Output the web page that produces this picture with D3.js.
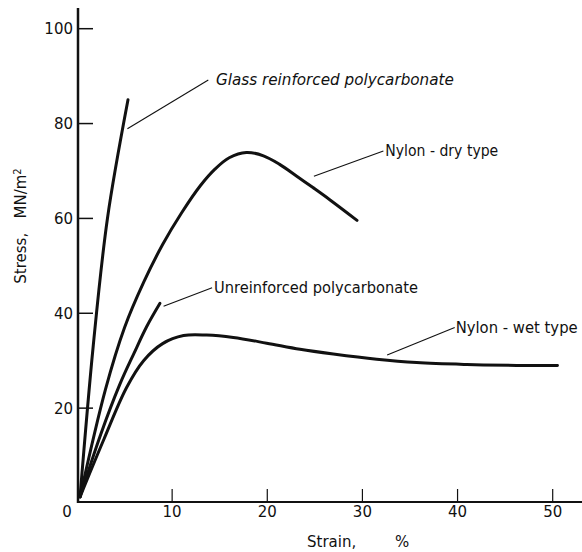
<!DOCTYPE html>
<html><head><meta charset="utf-8">
<script src="https://cdn.jsdelivr.net/npm/d3@7"></script>
<style>body{margin:0;background:#fff}svg{display:block}text{font-family:"DejaVu Sans",sans-serif;fill:#111}</style>
</head><body>
<svg id="c" width="582" height="552"></svg>
<script>
const xTicks = [0, 10, 20, 30, 40, 50];
const yTicks = [20, 40, 60, 80, 100];
const seriesNames = ["Glass reinforced polycarbonate", "Nylon-dry type", "Unreinforced polycarbonate", "Nylon-wet type"];
const glassStrain = [0.32, 1.7, 3.2, 5.36];
const glassStress = [1.3, 33.0, 60.0, 85.0];
const dryStrain = [0.32, 3.0, 5.0, 7.0, 9.0, 11.0, 13.0, 14.5, 16.0, 17.8, 19.6, 21.3, 23.1, 24.8, 26.6, 29.43];
const dryStress = [1.3, 24.0, 37.0, 46.5, 54.5, 61.2, 67.0, 70.4, 72.8, 73.9, 73.2, 71.4, 68.9, 66.5, 63.9, 59.6];
const unrStrain = [0.32, 2.5, 4.5, 6.0, 7.33, 8.72];
const unrStress = [1.3, 14.5, 25.0, 31.6, 37.2, 42.1];
const wetStrain = [0.32, 2.84, 5.2, 7.0, 9.0, 11.2, 13.63, 16.43, 19.94, 23.44, 26.94, 31.5, 35.7, 40.96, 46.2, 50.5];
const wetStress = [1.3, 13.5, 24.3, 30.0, 33.6, 35.3, 35.4, 34.9, 33.7, 32.4, 31.4, 30.3, 29.6, 29.2, 29.0, 29.0];
// leader anchors (strain, stress): near curve, near label
const leaderFrom = [[5.3, 78.9], [24.9, 68.9], [9.1, 41.5], [32.6, 31.2]];
const leaderTo = [[13.8, 89.2], [32.2, 74.2], [14.2, 45.4], [39.7, 37.0]];
const labelPos = [[14.6, 89.2], [32.4, 74.2], [14.4, 45.4], [39.8, 37.0]];

const svg = d3.select("#c");
const x = d3.scaleLinear().domain([0, 50]).range([77, 552.7]);
const y = d3.scaleLinear().domain([0, 100]).range([503, 28.7]);

// axes
svg.append("line").attr("x1", 78).attr("x2", 78).attr("y1", 8).attr("y2", y(0))
  .attr("stroke", "#111").attr("stroke-width", 2.5);
svg.append("line").attr("x1", 77).attr("x2", 582).attr("y1", y(0) - 1).attr("y2", y(0) - 1)
  .attr("stroke", "#111").attr("stroke-width", 2);

// y ticks (inward)
svg.selectAll(".yt").data(yTicks).enter().append("line")
  .attr("x1", 78).attr("x2", 93).attr("y1", d => y(d)).attr("y2", d => y(d))
  .attr("stroke", "#111").attr("stroke-width", 1.5);
svg.selectAll(".yl").data(yTicks).enter().append("text")
  .attr("x", 73).attr("y", d => y(d)).attr("dy", "0.36em").attr("text-anchor", "end")
  .attr("font-size", 15).text(d => d);

// x ticks (inward)
svg.selectAll(".xt").data(xTicks.filter(d => d > 0)).enter().append("line")
  .attr("x1", d => x(d)).attr("x2", d => x(d)).attr("y1", y(0) - 1).attr("y2", y(0) - 14)
  .attr("stroke", "#111").attr("stroke-width", 1.2);
svg.selectAll(".xl").data(xTicks).enter().append("text")
  .attr("x", d => d === 0 ? x(d) - 10 : x(d)).attr("y", 512).attr("dy", "0.36em").attr("text-anchor", "middle")
  .attr("font-size", 15).text(d => d);

svg.append("text").attr("x", 307).attr("y", 542).attr("dy", "0.36em").attr("font-size", 15).text("Strain,");
svg.append("text").attr("x", 395).attr("y", 542).attr("dy", "0.36em").attr("font-size", 15).text("%");

const yl = svg.append("text").attr("transform", "translate(21,226) rotate(-90)")
  .attr("text-anchor", "middle").attr("dy", "0.36em").attr("font-size", 15);
yl.append("tspan").text("Stress,\u00a0\u00a0\u00a0MN/m");
yl.append("tspan").attr("baseline-shift", "super").attr("font-size", 10).text("2");

// curves
const line = d3.line().x(d => x(d[0])).y(d => y(d[1])).curve(d3.curveCatmullRom.alpha(0.5));
const series = [
  d3.zip(glassStrain, glassStress),
  d3.zip(dryStrain, dryStress),
  d3.zip(unrStrain, unrStress),
  d3.zip(wetStrain, wetStress)
];
svg.selectAll(".curve").data(series).enter().append("path")
  .attr("d", line).attr("fill", "none").attr("stroke", "#111").attr("stroke-width", 3)
  .attr("stroke-linecap", "round").attr("stroke-linejoin", "round");

// leaders
svg.selectAll(".ld").data(d3.range(4)).enter().append("line")
  .attr("x1", i => x(leaderFrom[i][0])).attr("y1", i => y(leaderFrom[i][1]))
  .attr("x2", i => x(leaderTo[i][0])).attr("y2", i => y(leaderTo[i][1]))
  .attr("stroke", "#111").attr("stroke-width", 1.1);

// labels
const labW = [238, 113, 204, 122];
svg.selectAll(".lab").data(d3.range(4)).enter().append("text")
  .attr("x", i => x(labelPos[i][0])).attr("y", i => y(labelPos[i][1]))
  .attr("dy", "0.36em").attr("font-size", 15)
  .attr("font-style", i => i === 0 ? "italic" : "normal")
  .attr("textLength", i => labW[i]).attr("lengthAdjust", "spacingAndGlyphs")
  .text(i => seriesNames[i].replace("-", " - "));
</script>
</body></html>
